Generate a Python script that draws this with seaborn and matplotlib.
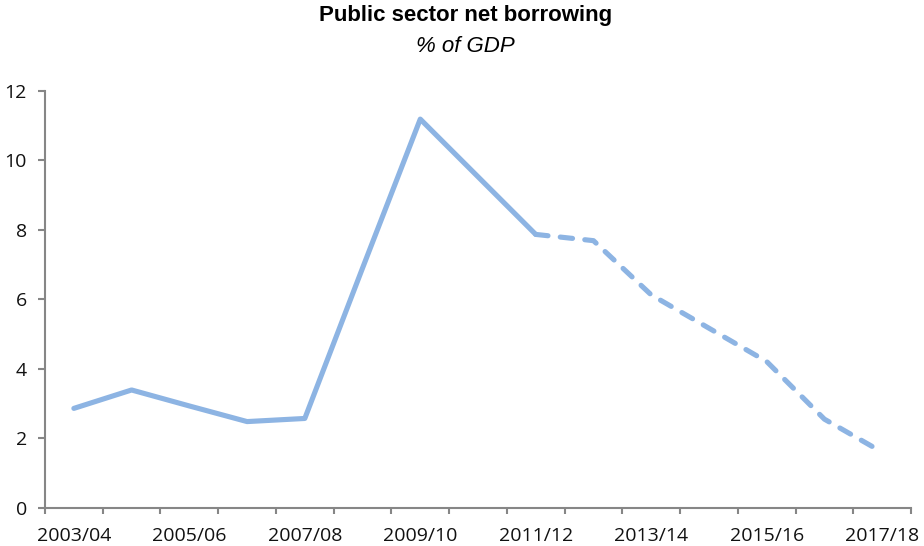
import numpy as np
import matplotlib
matplotlib.use("Agg")
import matplotlib.pyplot as plt
import seaborn as sns

# Financial years and public sector net borrowing (% of GDP)
years = ["2003/04", "2004/05", "2005/06", "2006/07", "2007/08", "2008/09",
         "2009/10", "2010/11", "2011/12", "2012/13", "2013/14", "2014/15",
         "2015/16", "2016/17", "2017/18"]
borrowing = [2.86, 3.39, 2.93, 2.48, 2.57, 6.9, 11.19, 9.53, 7.87, 7.69,
             6.13, 5.17, 4.21, 2.55, 1.6]
# Outturn up to 2011/12, forecast afterwards
last_outturn = "2011/12"

sns.set_theme(style="white")
plt.rcParams["font.family"] = ["Open Sans", "DejaVu Sans"]

line_color = "#8DB4E3"
axis_color = "#868686"

fig = plt.figure(figsize=(9.24, 5.46), dpi=100)
ax = fig.add_axes([45 / 924, 1 - 507.7 / 546, 866 / 924, (507.7 - 91) / 546])

pos = np.arange(len(years))
split = years.index(last_outturn)

sns.lineplot(x=pos[:split + 1], y=borrowing[:split + 1], ax=ax,
             color=line_color, linewidth=3.7, solid_capstyle="round",
             solid_joinstyle="round")
sns.lineplot(x=pos[split:], y=borrowing[split:], ax=ax,
             color=line_color, linewidth=3.7, linestyle=(0, (2.4, 2.4)),
             dash_capstyle="round", dash_joinstyle="round")

ax.set_xlim(-0.5, len(years) - 0.5)
ax.set_ylim(0, 12)
ax.set_yticks(np.arange(0, 13, 2))
ax.set_yticklabels([str(v) for v in range(0, 13, 2)])

# Labels on every other year, tick marks between categories
ax.set_xticks(pos[::2])
ax.set_xticklabels(years[::2])
ax.set_xticks(np.arange(-0.5, len(years), 1.0), minor=True)
ax.tick_params(axis="x", which="major", length=0, pad=14, labelsize=14,
               labelcolor="#111111")
ax.tick_params(axis="x", which="minor", length=4, width=1.5,
               color=axis_color, direction="out", bottom=True)
ax.tick_params(axis="y", which="major", length=5, width=1.5,
               color=axis_color, direction="out", left=True, pad=8,
               labelsize=14, labelcolor="#111111")

for side in ["top", "right"]:
    ax.spines[side].set_visible(False)
for side in ["left", "bottom"]:
    ax.spines[side].set_color(axis_color)
    ax.spines[side].set_linewidth(1.5)

ax.set_xlabel("")
ax.set_ylabel("")
ax.grid(False)

fig.text(0.504, 1 - 16 / 546, "Public sector net borrowing", ha="center",
         va="center", fontsize=16, fontweight="bold",
         family=["Liberation Sans", "DejaVu Sans"], color="#000000")
fig.text(0.504, 1 - 46 / 546, "% of GDP", ha="center", va="center",
         fontsize=16, fontstyle="italic",
         family=["Liberation Sans", "DejaVu Sans"], color="#000000")

fig.savefig("out.png", dpi=100)
